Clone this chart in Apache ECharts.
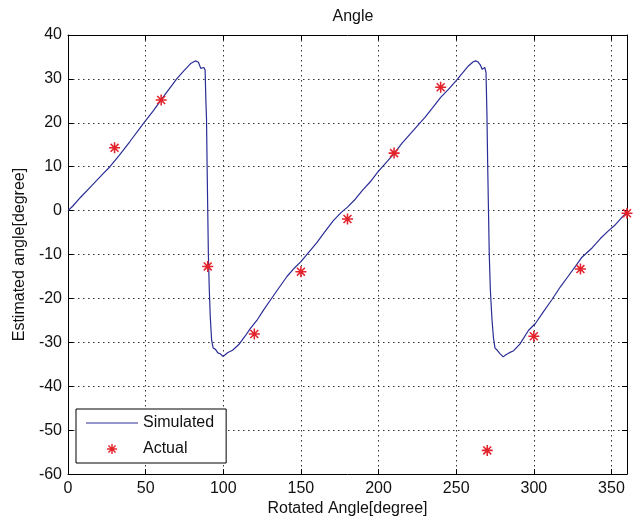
<!DOCTYPE html>
<html lang="en">
<head>
    <meta charset="UTF-8">
    <title>Angle</title>
    <style>
        html, body { margin: 0; padding: 0; background: #fff; }
    </style>
</head>
<body>
<div id="main" style="width: 633px;height:522px;"></div>
<script src="https://cdn.jsdelivr.net/npm/echarts@6/dist/echarts.min.js"></script>
<script>
    // simulated curve
    var simX = [0, 3, 8, 15, 22, 27, 33, 40, 48, 55, 62, 70, 75, 79, 82, 84, 85.5, 86.5, 87.5, 88.3,
        88.8, 89.2, 89.6, 90, 90.4, 91, 91.6, 92.5, 93.5, 95, 96.5, 98, 99.8, 101, 103, 106, 110,
        114, 117.5, 122, 126, 130.5, 136, 141, 146, 150, 155, 160, 165, 171, 176, 180, 185, 190,
        195, 200, 205, 210, 215, 220, 225, 230, 235, 240, 245, 250, 254, 258, 261, 262.5, 264,
        265.5, 266.7, 267.5, 268.4, 269.2, 269.8, 270.3, 270.8, 271.3, 272, 273, 274, 275, 276.5,
        278, 280.3, 282, 284, 287, 291, 296.5, 301, 306, 311.6, 317, 322, 327, 331, 337.5, 343,
        348, 352.5, 356, 360];
    var simY = [0, 1.0, 3.0, 5.6, 8.2, 10, 12.6, 15.8, 19.6, 22.8, 26.2, 30, 32, 33.5, 34.1, 33.8,
        32.4, 32.3, 32.6, 32, 25, 21, 10, 0, -10, -18, -24, -29.5, -31.3, -31.6, -32.4, -32.6,
        -33.2, -32.8, -32.3, -31.8, -30.5, -28.6, -26.8, -24.8, -22.6, -20.3, -17.5, -15, -13,
        -11.6, -9.5, -7.4, -5, -2.2, -0.4, 0.8, 2.6, 4.8, 6.7, 9.0, 11, 13.0, 15.3, 17.3, 19.3,
        21.3, 23.5, 25.8, 27.6, 29.6, 31.3, 33, 33.9, 34.1, 33.9, 33.2, 32.2, 32.4, 32.6, 31.5,
        22, 10, 0, -10, -18, -24.5, -29, -31.3, -31.8, -32.5, -33.3, -32.8, -32.4, -31.9, -30.4,
        -27.3, -25.7, -23.1, -20.3, -17.4, -15, -12.6, -10.6, -8.5, -6.3, -4.6, -3.2, -1.8, -0.4];

    // measured points
    var actX = [30, 60, 90, 120, 150, 180, 210, 240, 270, 300, 330, 360];
    var actY = [14.3, 25.2, -12.7, -28.1, -13.9, -1.9, 13.1, 28.1, -54.6, -28.6, -13.3, -0.6];

    var seriesNames = ['Simulated', 'Actual'];

    var simData = [];
    for (var i = 0; i < simX.length; i++) {
        simData.push([simX[i], simY[i]]);
    }
    var actData = [];
    for (var j = 0; j < actX.length; j++) {
        actData.push([actX[j], actY[j]]);
    }

    // red asterisk like matlab '*'
    var star = 'path://M4.3 0H5.7V10H4.3Z M0 4.3H10V5.7H0Z M0.9 1.9L1.9 0.9L9.1 8.1L8.1 9.1Z M8.1 0.9L9.1 1.9L1.9 9.1L0.9 8.1Z';
    // plain line for the legend (tiny corner dots keep the box 52x10)
    var lineIcon = 'path://M0 0L0.01 0L0 0.01Z M52 10L51.99 10L52 9.99Z M0 4.4H52V5.6H0Z';

    var font = 'Liberation Sans, Arial, sans-serif';
    var txt = '#111';
    var gridLine = {color: '#333', width: 1, type: [1.5, 3.5]};

    var myChart = echarts.init(document.getElementById('main'));
    var option = {
        animation: false,
        backgroundColor: '#fff',
        title: {
            text: 'Angle',
            left: 348,
            top: 4,
            textAlign: 'center',
            textStyle: {fontFamily: font, fontSize: 16, fontWeight: 'normal', color: txt}
        },
        grid: {left: 68, right: 6, top: 35, bottom: 47},
        legend: {
            orient: 'vertical',
            left: 76,
            top: 409,
            padding: [6, 12, 6, 10],
            itemWidth: 52,
            itemHeight: 10,
            itemGap: 10,
            backgroundColor: '#fff',
            borderColor: '#000',
            borderWidth: 1,
            borderRadius: 0,
            textStyle: {fontFamily: font, fontSize: 16, color: txt, lineHeight: 16},
            data: [{name: seriesNames[0], icon: lineIcon}, {name: seriesNames[1], icon: star}]
        },
        xAxis: [{
            type: 'value',
            min: 0,
            max: 360,
            interval: 50,
            name: 'Rotated Angle[degree]',
            nameLocation: 'middle',
            nameGap: 26,
            nameTextStyle: {fontFamily: font, fontSize: 16, color: txt},
            axisLine: {onZero: false, lineStyle: {color: '#000', width: 1}},
            axisTick: {inside: true, length: 5, lineStyle: {color: '#000'}},
            axisLabel: {
                margin: 6, fontFamily: font, fontSize: 16, color: txt,
                formatter: function (v) { return v % 50 === 0 ? v : ''; }
            },
            splitLine: {show: true, lineStyle: gridLine}
        }, {
            type: 'value',
            position: 'top',
            min: 0,
            max: 360,
            interval: 50,
            axisLine: {onZero: false, lineStyle: {color: '#000', width: 1}},
            axisTick: {inside: true, length: 5, lineStyle: {color: '#000'}},
            axisLabel: {show: false},
            splitLine: {show: false}
        }],
        yAxis: [{
            type: 'value',
            min: -60,
            max: 40,
            interval: 10,
            name: 'Estimated angle[degree]',
            nameLocation: 'middle',
            nameGap: 38,
            nameTextStyle: {fontFamily: font, fontSize: 16, color: txt},
            axisLine: {show: true, onZero: false, lineStyle: {color: '#000', width: 1}},
            axisTick: {show: true, inside: true, length: 5, lineStyle: {color: '#000'}},
            axisLabel: {margin: 6, fontFamily: font, fontSize: 16, color: txt},
            splitLine: {show: true, lineStyle: gridLine}
        }, {
            type: 'value',
            position: 'right',
            min: -60,
            max: 40,
            interval: 10,
            axisLine: {show: true, onZero: false, lineStyle: {color: '#000', width: 1}},
            axisTick: {show: true, inside: true, length: 5, lineStyle: {color: '#000'}},
            axisLabel: {show: false},
            splitLine: {show: false}
        }],
        series: [{
            name: seriesNames[0],
            type: 'line',
            data: simData,
            symbol: 'none',
            lineStyle: {color: '#2b2d96', width: 1.2},
            itemStyle: {color: '#2b2d96'},
            z: 3
        }, {
            name: seriesNames[1],
            type: 'scatter',
            data: actData,
            symbol: star,
            symbolSize: 11,
            clip: false,
            itemStyle: {color: '#e3222b', opacity: 1},
            z: 4
        }]
    };
    myChart.setOption(option);
</script>
</body>
</html>
